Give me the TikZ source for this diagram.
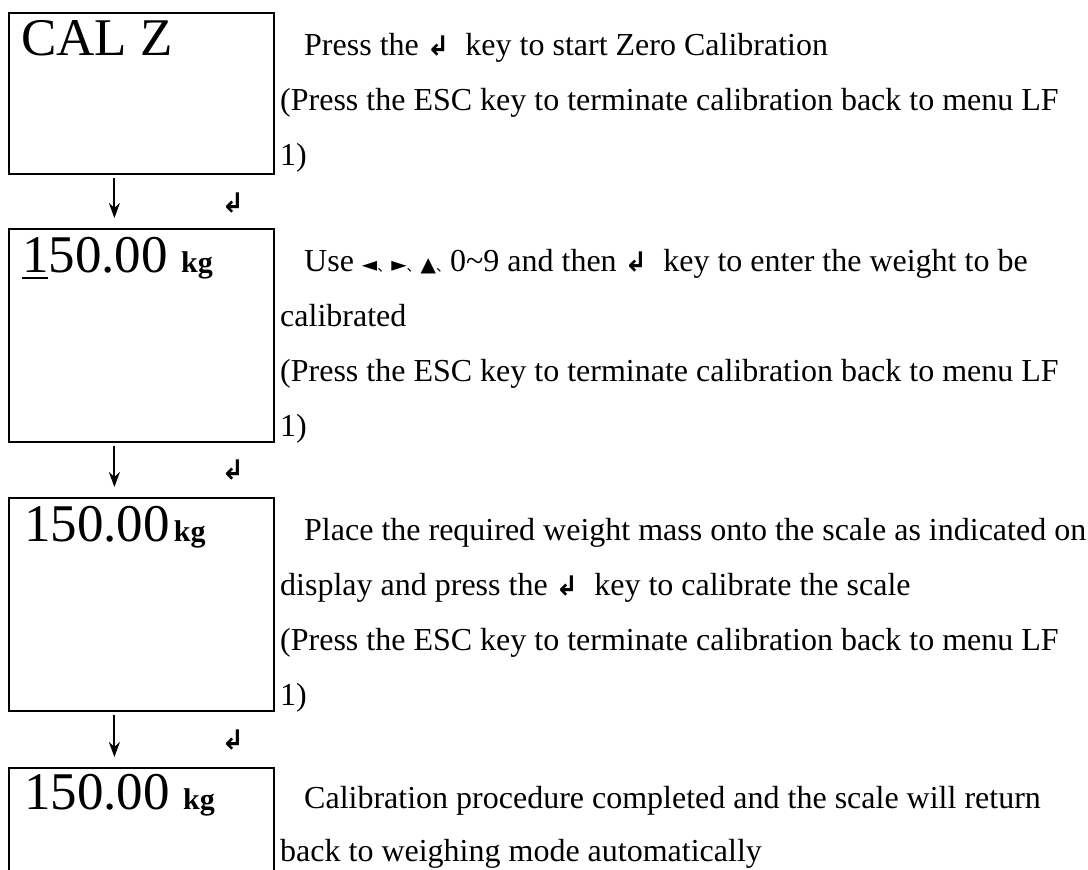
\documentclass[tikz,border=0pt]{standalone}
\usepackage{fontspec}
\setmainfont{Liberation Serif}
\newfontfamily\symfont{DejaVu Sans}
\newfontfamily\cjkfont{Noto Sans CJK SC}
\usetikzlibrary{arrows.meta}
\newcommand{\enterkey}{{\symfont\bfseries\fontsize{27}{27}\selectfont ↲}}
\newcommand{\dun}{{\cjkfont\fontsize{14}{14}\selectfont 、}}
\newcommand{\arrowkeys}{{\fontsize{20}{20}\selectfont\symfont ◄\dun►\dun▲\dun}}
\newcommand{\kg}{{\fontsize{30}{30}\selectfont\bfseries kg}}

\begin{document}
\begin{tikzpicture}[x=1pt, y=-1pt,
    box/.style={draw, line width=1.8pt, anchor=north west, inner sep=0pt,
        minimum width=265pt, minimum height=213pt},
    lcd/.style={anchor=base west, inner sep=0pt, font=\fontsize{53}{53}\selectfont},
    desc/.style={anchor=north west, inner sep=0pt, align=left,
        font=\fontsize{32}{55}\selectfont},
    flow/.style={line width=2pt, -{Stealth[length=15pt, width=11pt]},
        shorten <=3pt, shorten >=10pt}]
    \clip (0, 0) rectangle (1088, 870);

    % The four display screens
    \node[box, minimum height=161pt] (b1) at (8, 12) {};
    \node[box] (b2) at (8, 228) {};
    \node[box] (b3) at (8, 497) {};
    \node[box] (b4) at (8, 767) {};

    % What the screens show
    \node[lcd] (d1) at (21, 55) {CAL Z};
    \node[lcd] (d2) at (22, 272) {\rlap{\rule[-7pt]{26pt}{2.5pt}}150.00 \kg};
    \node[lcd] (d3) at (24, 541) {150.00\hspace{4pt}\kg};
    \node[lcd] (d4) at (24, 809) {150.00 \kg};

    % Key press between the screens
    \node (k1) at (233, 203) {\enterkey};
    \node (k2) at (233, 470) {\enterkey};
    \node (k3) at (233, 740) {\enterkey};

    \draw[flow] ([xshift=-27pt]b1.south) -- ([xshift=-27pt]b2.north);
    \draw[flow] ([xshift=-27pt]b2.south) -- ([xshift=-27pt]b3.north);
    \draw[flow] ([xshift=-27pt]b3.south) -- ([xshift=-27pt]b4.north);

    % Explanations (first line starts 43pt below the top of its screen)
    \node[desc] (t1) at (280, 25) {\rule{0pt}{30pt}\hspace*{24pt}Press the \enterkey\ \ key to start Zero Calibration\\
        (Press the ESC key to terminate calibration back to menu LF\\
        1)};
    \node[desc] (t2) at (280, 241) {\rule{0pt}{30pt}\hspace*{24pt}Use \arrowkeys0\textasciitilde9 and then \enterkey\ \ key to enter the weight to be\\
        calibrated\\
        (Press the ESC key to terminate calibration back to menu LF\\
        1)};
    \node[desc] (t3) at (280, 510) {\rule{0pt}{30pt}\hspace*{24pt}Place the required weight mass onto the scale as indicated on\\
        display and press the \enterkey\ \ key to calibrate the scale\\
        (Press the ESC key to terminate calibration back to menu LF\\
        1)};
    \node[desc] (t4) at (280, 778) {\rule{0pt}{30pt}\hspace*{24pt}Calibration procedure completed and the scale will return\\[-2pt]
        back to weighing mode automatically};
\end{tikzpicture}
\end{document}
